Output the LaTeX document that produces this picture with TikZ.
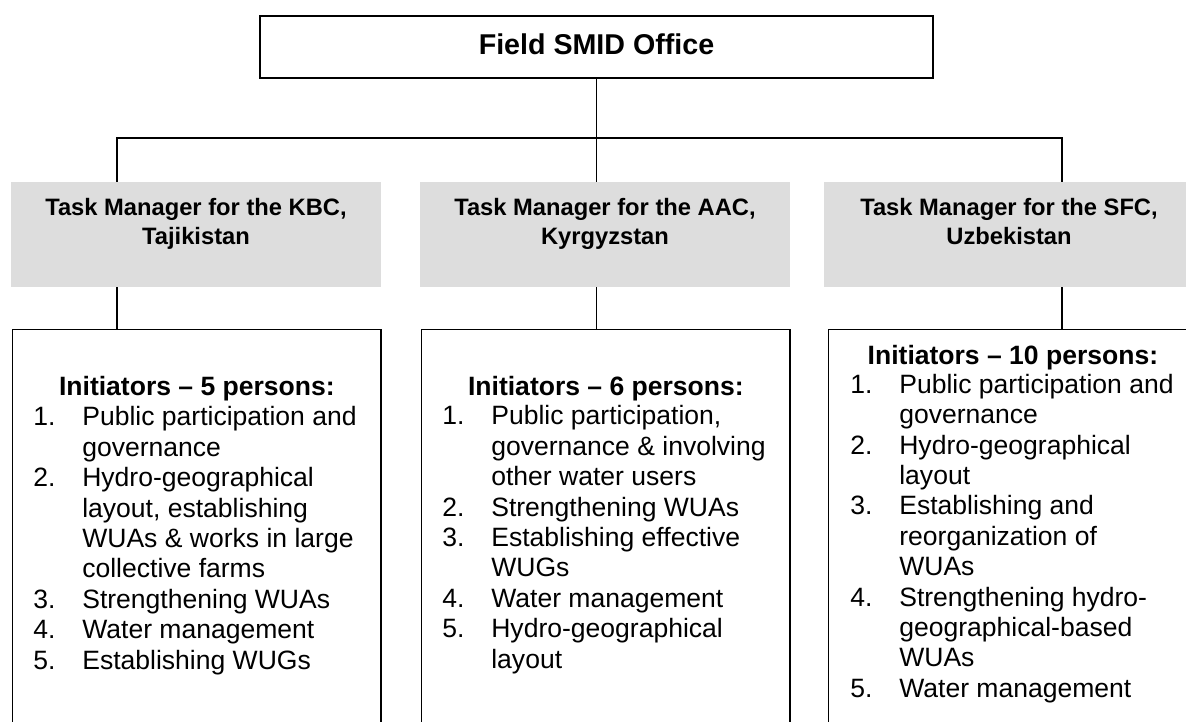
\documentclass[tikz,border=0pt]{standalone}
\usepackage{fontspec}
\setmainfont{Liberation Sans}
\usepackage{array}
\usetikzlibrary{calc,positioning}

\definecolor{mgrgray}{RGB}{221,221,221}

\tikzset{
  office/.style={draw, line width=0.8pt, minimum width=13.46cm, minimum height=1.24cm,
    inner sep=0pt, text depth=3.4pt, font=\fontsize{16.3}{19}\selectfont\bfseries},
  manager/.style={fill=mgrgray, minimum width=7.4cm, minimum height=2.1cm, inner sep=0pt},
  mgrtext/.style={anchor=base, inner sep=0pt, font=\fontsize{13.5}{16.4}\selectfont\bfseries},
  team/.style={draw, line width=0.8pt, anchor=north west, minimum width=7.37cm,
    minimum height=8.6cm, inner sep=0pt},
  teamhead/.style={anchor=base, inner sep=0pt, font=\fontsize{15.1}{17.3}\selectfont\bfseries},
  teamlist/.style={anchor=base west, inner sep=0pt, font=\fontsize{15.1}{17.3}\selectfont},
  link/.style={line width=0.8pt},
}

\newcommand{\mgrlines}[1]{\begin{tabular}[t]{@{}c@{}}#1\end{tabular}}
\newcommand{\teamitems}[1]{\begin{tabular}[t]{@{}p{0.98cm}@{}l@{}}#1\end{tabular}}

\begin{document}
\begin{tikzpicture}[x=0.02cm, y=-0.02cm, line cap=rect, line join=miter]

% frame of the page (picture is cut at the right and bottom)
\useasboundingbox (0,0) rectangle (1186,722);
\clip (0,0) rectangle (1186,722);

% ---------------------------------------------------------
% Top office
% ---------------------------------------------------------
\node[office] (office) at (596.5,47) {Field SMID Office};

% ---------------------------------------------------------
% Task managers
% ---------------------------------------------------------
\node[manager] (kbc) at (196,234.5) {};
\node[manager] (aac) at (605,234.5) {};
\node[manager] (sfc) at (1009,234.5) {};

\node[mgrtext] (kbctxt) at ($(kbc.north)+(0,34)$)
  {\mgrlines{Task Manager for the KBC,\\Tajikistan}};
\node[mgrtext] (aactxt) at ($(aac.north)+(0,34)$)
  {\mgrlines{Task Manager for the AAC,\\Kyrgyzstan}};
\node[mgrtext] (sfctxt) at ($(sfc.north)+(0,34)$)
  {\mgrlines{Task Manager for the SFC,\\Uzbekistan}};

% ---------------------------------------------------------
% Connectors
% ---------------------------------------------------------
\coordinate (busL) at (117,138);
\coordinate (busR) at (1062,138);

\draw[link] (office.south) -- (office.south |- aac.north);
\draw[link] (busL |- kbc.north) -- (busL) -- (busR) -- (busR |- sfc.north);

% ---------------------------------------------------------
% Initiator teams
% ---------------------------------------------------------
\node[team] (kbcteam) at (12,329) {};
\node[team] (aacteam) at (421,329) {};
\node[team] (sfcteam) at (828,329) {};

\draw[link] (busL |- kbc.south) -- (busL |- kbcteam.north);
\draw[link] (office.south |- aac.south) -- (office.south |- aacteam.north);
\draw[link] (busR |- sfc.south) -- (busR |- sfcteam.north);

% KBC team
\node[teamhead] (kbchead) at ($(kbcteam.north)+(0,67)$) {Initiators -- 5 persons:};
\node[teamlist] (kbclist) at ($(kbcteam.north west)+(21,97)$) {\teamitems{
  1. & Public participation and\\
     & governance\\
  2. & Hydro-geographical\\
     & layout, establishing\\
     & WUAs \& works in large\\
     & collective farms\\
  3. & Strengthening WUAs\\
  4. & Water management\\
  5. & Establishing WUGs}};

% AAC team
\node[teamhead] (aachead) at ($(aacteam.north)+(0,67)$) {Initiators -- 6 persons:};
\node[teamlist] (aaclist) at ($(aacteam.north west)+(21,96)$) {\teamitems{
  1. & Public participation,\\
     & governance \& involving\\
     & other water users\\
  2. & Strengthening WUAs\\
  3. & Establishing effective\\
     & WUGs\\
  4. & Water management\\
  5. & Hydro-geographical\\
     & layout}};

% SFC team
\node[teamhead] (sfchead) at ($(sfcteam.north)+(0,36)$) {Initiators -- 10 persons:};
\node[teamlist] (sfclist) at ($(sfcteam.north west)+(22,64.3)$) {\teamitems{
  1. & Public participation and\\
     & governance\\
  2. & Hydro-geographical\\
     & layout\\
  3. & Establishing and\\
     & reorganization of\\
     & WUAs\\
  4. & Strengthening hydro-\\
     & geographical-based\\
     & WUAs\\
  5. & Water management}};

\end{tikzpicture}
\end{document}
